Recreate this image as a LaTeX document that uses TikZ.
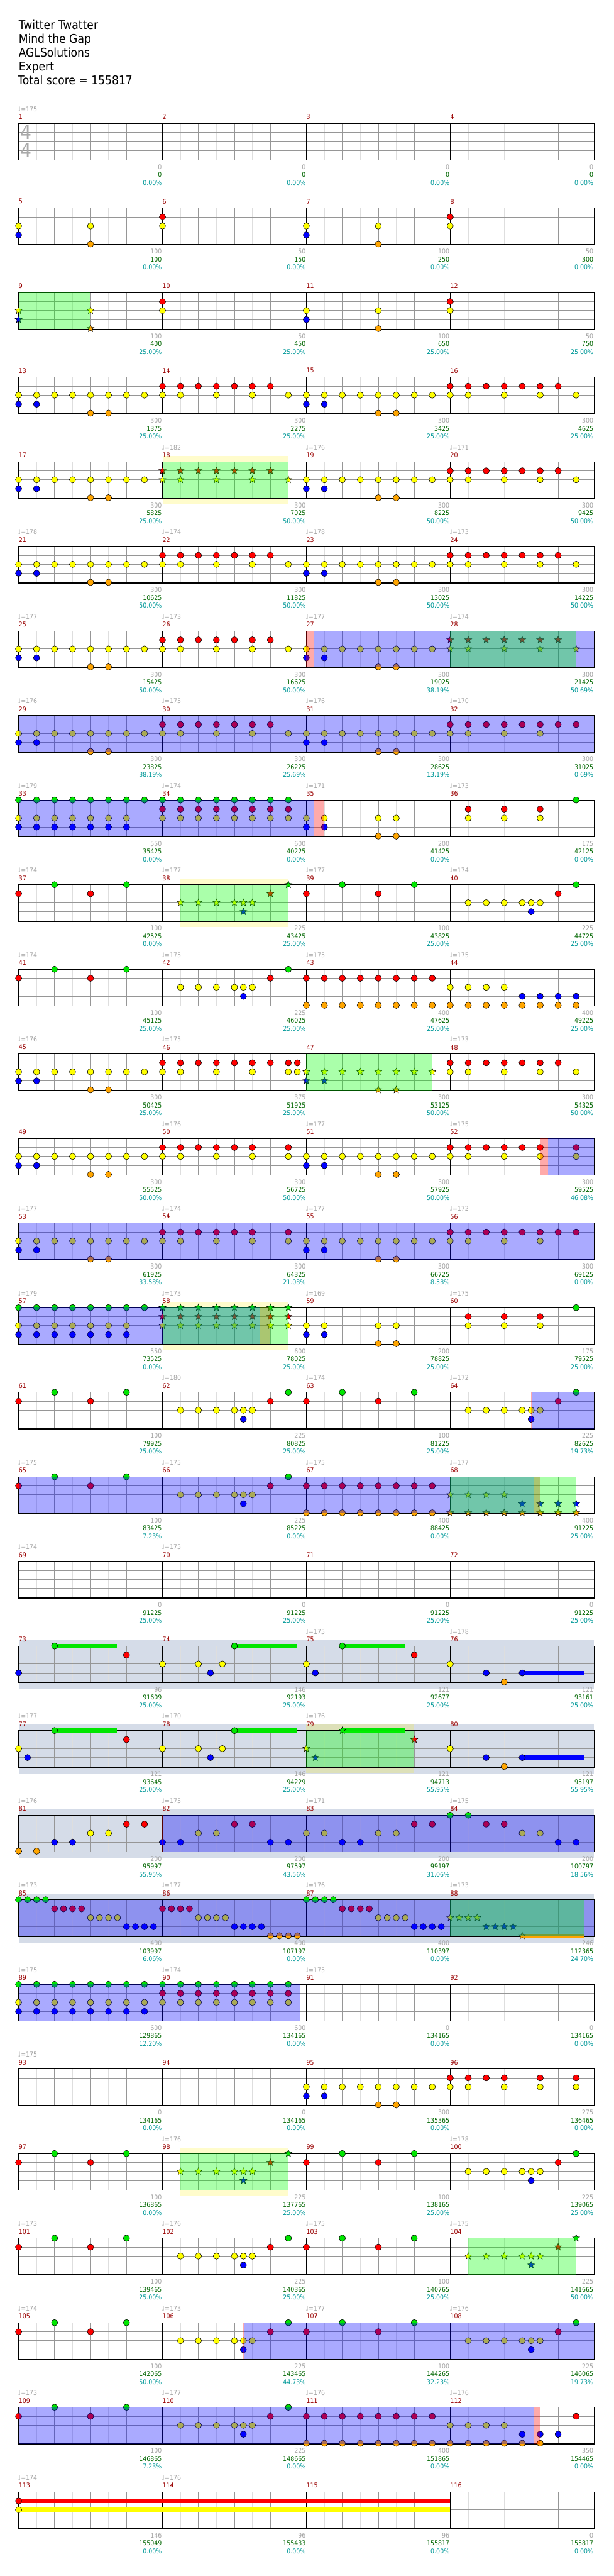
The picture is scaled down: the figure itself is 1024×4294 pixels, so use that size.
\documentclass[tikz,border=0pt]{standalone}
\usepackage{fontspec}
\setmainfont{DejaVu Sans}[FakeStretch=0.9]
\usetikzlibrary{shapes.geometric}

\definecolor{lane0}{RGB}{0,230,0}
\definecolor{lane1}{RGB}{255,0,0}
\definecolor{lane2}{RGB}{255,255,0}
\definecolor{lane3}{RGB}{0,0,255}
\definecolor{lane4}{RGB}{255,165,0}
\definecolor{ovblue}{RGB}{0,0,255}
\definecolor{ovgreen}{RGB}{0,255,0}
\definecolor{ovpink}{RGB}{255,0,0}
\definecolor{slategrey}{RGB}{213,220,232}
\definecolor{barred}{RGB}{153,0,0}
\definecolor{lightgrey}{RGB}{165,165,165}
\definecolor{scoregreen}{RGB}{0,102,0}
\definecolor{pctteal}{RGB}{0,153,153}

\tikzset{
  note/.style={circle, draw=black, line width=0.6pt, minimum size=10.5pt, inner sep=0pt},
  starnote/.style={star, star points=5, star point ratio=2.3, draw=black, line width=0.5pt, minimum size=12.5pt, inner sep=0pt},
  eighthline/.style={draw={rgb,255:red,222;green,222;blue,222}, line width=0.8pt},
  beatline/.style={draw={rgb,255:red,150;green,150;blue,150}, line width=0.8pt},
  laneline/.style={draw={rgb,255:red,150;green,150;blue,150}, line width=0.8pt},
  barline/.style={draw=black, line width=0.8pt},
  staffborder/.style={draw=black, line width=1.3pt},
  susbar/.style={line width=7pt},
  glowband/.style={fill=yellow, opacity=0.2},
  chart/.style={font=\fontsize{11}{13}\selectfont, inner sep=0pt},
  barnum/.style={chart, text=barred},
  tempo/.style={chart, text=lightgrey},
  statgray/.style={chart, text=lightgrey},
  statscore/.style={chart, text=scoregreen},
  statpct/.style={chart, text=pctteal},
  titletext/.style={font=\fontsize{20}{24}\selectfont, inner sep=0pt, anchor=base west}
}

\newcount\notecnt
% one gem: [style]{row}{position in eighths}{lane}
\newcommand{\notehead}[4][note]{%
  \global\advance\notecnt by 1
  \node[#1, fill=lane#4] (n\the\notecnt) at ({31+30*(#3)},{205.7+141*(#2)+15*(#4)}) {};}
\newcommand{\notes}[2]{\foreach \p/\l in {#2}{\notehead{#1}{\p}{\l}}}
\newcommand{\stars}[2]{\foreach \p/\l in {#2}{\notehead[starnote]{#1}{\p}{\l}}}
\newcommand{\sustain}[4]{%
  \draw[susbar, draw=lane#4] ({31+30*(#2)},{205.7+141*(#1)+15*(#4)}) -- ({31+30*(#3)},{205.7+141*(#1)+15*(#4)});}

% staff with grid and bar numbers
\newcommand{\staffgrid}[2]{%
  \pgfmathsetmacro\sy{205.7+141*#1}
  \foreach \q in {1,3,...,31} \draw[eighthline] ({31+30*\q},\sy) -- ++(0,61);
  \foreach \q in {2,4,6,10,12,14,18,20,22,26,28,30} \draw[beatline] ({31+30*\q},\sy) -- ++(0,61);
  \foreach \l in {15,30,45} \draw[laneline] (31,{\sy+\l}) -- (991,{\sy+\l});
  \foreach \q in {8,16,24} \draw[barline] ({31+30*\q},\sy) -- ++(0,61);
  \draw[staffborder] (31,\sy) rectangle (991,{\sy+61});
  \foreach \i in {0,...,3}{%
    \pgfmathtruncatemacro\n{#2+\i}
    \node[barnum, anchor=west] (bar\n) at ({31+240*\i},{\sy-11}) {\n};}}

\newcommand{\stats}[2]{%
  \pgfmathsetmacro\sy{205.7+141*#1}
  \foreach \gv/\sv/\pv [count=\i] in {#2}{%
    \node[statgray, anchor=east] (pts#1-\i) at ({30+240*\i},{\sy+72.7}) {\gv};
    \node[statscore, anchor=east] (sum#1-\i) at ({30+240*\i},{\sy+85.7}) {\sv};
    \node[statpct, anchor=east] (pct#1-\i) at ({30+240*\i},{\sy+98.7}) {\pv\%};}}
\newcommand{\tempos}[2]{%
  \pgfmathsetmacro\sy{205.7+141*#1}
  \foreach \i/\bpm in {#2} \node[tempo, anchor=west] (bpm#1-\i) at ({30+240*\i},{\sy-24}) {♩=\bpm};}

% shaded spans
\newcommand{\spanfill}[4]{%
  \pgfmathsetmacro\sy{205.7+141*#1}
  \fill[#4, opacity=0.333] ({31+30*(#2)},\sy) rectangle ({31+30*(#3)},{\sy+61});}
\newcommand{\glow}[3]{%
  \pgfmathsetmacro\sy{205.7+141*#1}
  \fill[glowband] ({31+30*(#2)},{\sy-10}) rectangle ({31+30*(#3)},\sy);
  \fill[glowband] ({31+30*(#2)},{\sy+61}) rectangle ({31+30*(#3)},{\sy+71});}
\newcommand{\slateband}[1]{%
  \pgfmathsetmacro\sy{205.7+141*#1}
  \fill[slategrey] (31,{\sy-10.5}) rectangle (991,{\sy+71.5});}

% recurring measures: [style]{row}{offset}
\newcommand{\grooveA}[3][note]{%
  \foreach \p in {0,...,7}{\notehead[#1]{#2}{#3+\p}{2}}
  \foreach \p in {0,1}{\notehead[#1]{#2}{#3+\p}{3}}
  \foreach \p in {4,5}{\notehead[#1]{#2}{#3+\p}{4}}}
\newcommand{\grooveB}[3][note]{%
  \foreach \p in {0,...,6}{\notehead[#1]{#2}{#3+\p}{1}}
  \foreach \p in {0,1,3,5,7}{\notehead[#1]{#2}{#3+\p}{2}}}
\newcommand{\grooveC}[3][note]{%
  \foreach \p in {0,1,2,3,4,5,7}{\notehead[#1]{#2}{#3+\p}{1}}
  \foreach \p in {0,1,3,5,7}{\notehead[#1]{#2}{#3+\p}{2}}}
\newcommand{\grooveD}[3][note]{%
  \foreach \p in {0,...,7}{\notehead[#1]{#2}{#3+\p}{1}}
  \foreach \p in {0,1,3,5}{\notehead[#1]{#2}{#3+\p}{2}}}
\newcommand{\grooveE}[3][note]{%
  \foreach \p in {0,1,4,5}{\notehead[#1]{#2}{#3+\p}{2}}
  \foreach \p in {0,1}{\notehead[#1]{#2}{#3+\p}{3}}
  \foreach \p in {4,5}{\notehead[#1]{#2}{#3+\p}{4}}}
\newcommand{\grooveF}[3][note]{%
  \foreach \p in {1,3,5}{\notehead[#1]{#2}{#3+\p}{1}\notehead[#1]{#2}{#3+\p}{2}}
  \notehead[#1]{#2}{#3+7}{0}}
\newcommand{\grooveG}[3][note]{%
  \foreach \p in {0,...,7}{\notehead[#1]{#2}{#3+\p}{1}\notehead[#1]{#2}{#3+\p}{4}}}
\newcommand{\grooveH}[3][note]{%
  \foreach \p in {0,...,3}{\notehead[#1]{#2}{#3+\p}{2}}
  \foreach \p in {4,...,7}{\notehead[#1]{#2}{#3+\p}{3}}
  \foreach \p in {0,...,7}{\notehead[#1]{#2}{#3+\p}{4}}}
\newcommand{\rollA}[3][note]{%
  \foreach \p in {0,...,7}{\notehead[#1]{#2}{#3+\p}{0}}
  \foreach \p in {0,...,6}{\notehead[#1]{#2}{#3+\p}{2}\notehead[#1]{#2}{#3+\p}{3}}}
\newcommand{\rollB}[3][note]{%
  \foreach \p in {0,...,7}{\notehead[#1]{#2}{#3+\p}{0}\notehead[#1]{#2}{#3+\p}{1}\notehead[#1]{#2}{#3+\p}{2}}}
\newcommand{\riffA}[3][note]{%
  \foreach \p/\l in {0/1,2/0,4/1,6/0}{\notehead[#1]{#2}{#3+\p}{\l}}}
\newcommand{\riffB}[3][note]{%
  \foreach \p/\l in {1/2,2/2,3/2,4/2,4.5/2,5/2,4.5/3,6/1,7/0}{\notehead[#1]{#2}{#3+\p}{\l}}}

\begin{document}
\begin{tikzpicture}[x=1pt, y=-1pt]
\useasboundingbox (0,0) rectangle (1024,4294);
\fill[white] (0,0) rectangle (1024,4294);

% header
\node[titletext] (song) at (31,49) {Twitter Twatter};
\node[titletext] (album) at (31,72) {Mind the Gap};
\node[titletext] (charter) at (31,95) {AGLSolutions};
\node[titletext] (level) at (31,118) {Expert};
\node[titletext] (total) at (29.5,141) {Total score = 155817};

% backgrounds
\foreach \k in {18,...,21} {\slateband{\k}}
\glow{4}{8}{15}
\glow{9}{9}{15}
\glow{14}{8}{15}
\glow{19}{16}{22}
\glow{24}{9}{15}

% staves
\foreach \k [evaluate=\k as \m using int(4*\k+1)] in {0,...,28} {\staffgrid{\k}{\m}}
\node[text={rgb,255:red,170;green,170;blue,170}, font=\fontsize{33}{33}\selectfont, inner sep=0pt] (tsnum) at (43.8,220.4) {4};
\node[text={rgb,255:red,170;green,170;blue,170}, font=\fontsize{33}{33}\selectfont, inner sep=0pt] (tsden) at (43.8,250.7) {4};

% row 1-4
\tempos{0}{0/175}
\stats{0}{0/0/0.00, 0/0/0.00, 0/0/0.00, 0/0/0.00}

% row 5-8
\notes{1}{0/2,0/3,4/2,4/4,8/1,8/2,16/2,16/3,20/2,20/4,24/1,24/2}
\stats{1}{100/100/0.00, 50/150/0.00, 100/250/0.00, 50/300/0.00}

% row 9-12
\stars{2}{0/2,0/3,4/2,4/4}
\notes{2}{8/1,8/2,16/2,16/3,20/2,20/4,24/1,24/2}
\spanfill{2}{0}{4}{ovgreen}
\stats{2}{100/400/25.00, 50/450/25.00, 100/650/25.00, 50/750/25.00}

% row 13-16
\grooveA{3}{0} \grooveB{3}{8} \grooveA{3}{16} \grooveB{3}{24}
\stats{3}{300/1375/25.00, 300/2275/25.00, 300/3425/25.00, 300/4625/25.00}

% row 17-20
\grooveA{4}{0} \grooveB[starnote]{4}{8} \grooveA{4}{16} \grooveB{4}{24}
\spanfill{4}{8}{15}{ovgreen}
\tempos{4}{1/182,2/176,3/171}
\stats{4}{300/5825/25.00, 300/7025/50.00, 300/8225/50.00, 300/9425/50.00}

% row 21-24
\grooveA{5}{0} \grooveB{5}{8} \grooveA{5}{16} \grooveB{5}{24}
\tempos{5}{0/178,1/174,2/178,3/173}
\stats{5}{300/10625/50.00, 300/11825/50.00, 300/13025/50.00, 300/14225/50.00}

% row 25-28
\grooveA{6}{0} \grooveB{6}{8} \grooveA{6}{16} \grooveB[starnote]{6}{24}
\spanfill{6}{16}{16.41}{ovpink}
\spanfill{6}{16.41}{32}{ovblue}
\spanfill{6}{24}{31}{ovgreen}
\tempos{6}{0/177,1/173,2/177,3/174}
\stats{6}{300/15425/50.00, 300/16625/50.00, 300/19025/38.19, 300/21425/50.69}

% row 29-32
\grooveA{7}{0} \grooveB{7}{8} \grooveA{7}{16} \grooveD{7}{24}
\spanfill{7}{0}{32}{ovblue}
\tempos{7}{0/176,1/175,2/176,3/170}
\stats{7}{300/23825/38.19, 300/26225/25.69, 300/28625/13.19, 300/31025/0.69}

% row 33-36
\rollA{8}{0} \rollB{8}{8} \grooveE{8}{16} \grooveF{8}{24}
\spanfill{8}{0}{16.42}{ovblue}
\spanfill{8}{16.42}{17}{ovpink}
\tempos{8}{0/179,1/174,2/171,3/173}
\stats{8}{550/35425/0.00, 600/40225/0.00, 200/41425/0.00, 175/42125/0.00}

% row 37-40
\riffA{9}{0} \riffB[starnote]{9}{8} \riffA{9}{16} \riffB{9}{24}
\spanfill{9}{9}{15}{ovgreen}
\tempos{9}{0/174,1/177,2/177,3/174}
\stats{9}{100/42525/0.00, 225/43425/25.00, 100/43825/25.00, 225/44725/25.00}

% row 41-44
\riffA{10}{0} \riffB{10}{8} \grooveG{10}{16} \grooveH{10}{24}
\tempos{10}{0/174,1/175,2/175,3/175}
\stats{10}{100/45125/25.00, 225/46025/25.00, 400/47625/25.00, 400/49225/25.00}

% row 45-48
\grooveA{11}{0}
\notes{11}{8/1,9/1,10/1,11/1,12/1,13/1,14/1,15/1,15.5/1,8/2,9/2,11/2,13/2,15/2,15.5/2}
\grooveA[starnote]{11}{16} \grooveB{11}{24}
\spanfill{11}{16}{23}{ovgreen}
\tempos{11}{0/176,1/175,3/173}
\stats{11}{300/50425/25.00, 375/51925/25.00, 300/53125/50.00, 300/54325/50.00}

% row 49-52
\grooveA{12}{0} \grooveC{12}{8} \grooveA{12}{16} \grooveC{12}{24}
\spanfill{12}{29}{29.43}{ovpink}
\spanfill{12}{29.43}{32}{ovblue}
\tempos{12}{1/176,2/177,3/175}
\stats{12}{300/55525/50.00, 300/56725/50.00, 300/57925/50.00, 300/59525/46.08}

% row 53-56
\grooveA{13}{0} \grooveC{13}{8} \grooveA{13}{16} \grooveD{13}{24}
\spanfill{13}{0}{32}{ovblue}
\tempos{13}{0/177,1/174,2/177,3/172}
\stats{13}{300/61925/33.58, 300/64325/21.08, 300/66725/8.58, 300/69125/0.00}

% row 57-60
\rollA{14}{0} \rollB[starnote]{14}{8} \grooveE{14}{16} \grooveF{14}{24}
\spanfill{14}{0}{13.45}{ovblue}
\spanfill{14}{13.45}{14}{ovpink}
\spanfill{14}{8}{15}{ovgreen}
\tempos{14}{0/179,1/173,2/169,3/175}
\stats{14}{550/73525/0.00, 600/78025/25.00, 200/78825/25.00, 175/79525/25.00}

% row 61-64
\riffA{15}{0} \riffB{15}{8} \riffA{15}{16} \riffB{15}{24}
\spanfill{15}{28.5}{28.57}{ovpink}
\spanfill{15}{28.57}{32}{ovblue}
\tempos{15}{1/180,2/174,3/172}
\stats{15}{100/79925/25.00, 225/80825/25.00, 100/81225/25.00, 225/82625/19.73}

% row 65-68
\riffA{16}{0} \riffB{16}{8} \grooveG{16}{16} \grooveH[starnote]{16}{24}
\spanfill{16}{0}{28.65}{ovblue}
\spanfill{16}{28.65}{29}{ovpink}
\spanfill{16}{24}{31}{ovgreen}
\tempos{16}{0/175,1/175,2/175,3/177}
\stats{16}{100/83425/7.23, 225/85225/0.00, 400/88425/0.00, 400/91225/25.00}

% row 69-72
\tempos{17}{0/174,1/175}
\stats{17}{0/91225/25.00, 0/91225/25.00, 0/91225/25.00, 0/91225/25.00}

% row 73-76
\sustain{18}{2}{5.47}{0} \sustain{18}{12}{15.47}{0} \sustain{18}{18}{21.47}{0} \sustain{18}{28}{31.47}{3}
\notes{18}{0/3,2/0,6/1,8/2,10/2,11.33/2,10.67/3,12/0,16/2,16.5/3,18/0,22/1,24/2,26/3,27/4,28/3}
\tempos{18}{2/175,3/178}
\stats{18}{96/91609/25.00, 146/92193/25.00, 121/92677/25.00, 121/93161/25.00}

% row 77-80
\sustain{19}{2}{5.47}{0} \sustain{19}{12}{15.47}{0} \sustain{19}{18}{21.47}{0} \sustain{19}{28}{31.47}{3}
\notes{19}{0/2,0.5/3,2/0,6/1,8/2,10/2,11.33/2,10.67/3,12/0,24/2,26/3,27/4,28/3}
\stars{19}{16/2,16.5/3,18/0,22/1}
\spanfill{19}{16}{22}{ovgreen}
\tempos{19}{0/177,1/170,2/176}
\stats{19}{121/93645/25.00, 146/94229/25.00, 121/94713/55.95, 121/95197/55.95}

% row 81-84
\notes{20}{0/4,1/4,2/3,3/3,4/2,5/2,6/1,7/1,8/3,9/3,10/2,11/2,12/1,13/1,14/3,15/3,16/2,17/2,18/3,19/3,20/2,21/2,22/1,23/1,24/0,25/0,26/1,27/1,28/2,29/2,30/3,31/3}
\spanfill{20}{7.95}{8}{ovpink}
\spanfill{20}{8}{32}{ovblue}
\tempos{20}{0/176,1/175,2/171,3/175}
\stats{20}{200/95997/55.95, 200/97597/43.56, 200/99197/31.06, 200/100797/18.56}

% row 85-88
\sustain{21}{28}{31.47}{4}
\notes{21}{0/0,0.5/0,1/0,1.5/0,2/1,2.5/1,3/1,3.5/1,4/2,4.5/2,5/2,5.5/2,6/3,6.5/3,7/3,7.5/3,
  8/1,8.5/1,9/1,9.5/1,10/2,10.5/2,11/2,11.5/2,12/3,12.5/3,13/3,13.5/3,14/4,14.5/4,15/4,15.5/4,
  16/0,16.5/0,17/0,17.5/0,18/1,18.5/1,19/1,19.5/1,20/2,20.5/2,21/2,21.5/2,22/3,22.5/3,23/3,23.5/3}
\stars{21}{24/2,24.5/2,25/2,25.5/2,26/3,26.5/3,27/3,27.5/3,28/4}
\spanfill{21}{0}{32}{ovblue}
\spanfill{21}{24}{31.47}{ovgreen}
\tempos{21}{0/173,1/177,2/176,3/173}
\stats{21}{400/103997/6.06, 400/107197/0.00, 400/110397/0.00, 246/112365/24.70}

% row 89-92
\foreach \q in {0,...,7} {\notes{22}{\q/0,\q/2,\q/3}}
\rollB{22}{8}
\spanfill{22}{0}{15.65}{ovblue}
\tempos{22}{0/175,1/174,2/175}
\stats{22}{600/129865/12.20, 600/134165/0.00, 0/134165/0.00, 0/134165/0.00}

% row 93-96
\grooveA{23}{16}
\notes{23}{24/1,25/1,26/1,27/1,29/1,31/1,24/2,25/2,27/2,29/2,31/2}
\tempos{23}{0/175}
\stats{23}{0/134165/0.00, 0/134165/0.00, 300/135365/0.00, 275/136465/0.00}

% row 97-100
\riffA{24}{0} \riffB[starnote]{24}{8} \riffA{24}{16} \riffB{24}{24}
\spanfill{24}{9}{15}{ovgreen}
\tempos{24}{1/176,3/178}
\stats{24}{100/136865/0.00, 225/137765/25.00, 100/138165/25.00, 225/139065/25.00}

% row 101-104
\riffA{25}{0} \riffB{25}{8} \riffA{25}{16} \riffB[starnote]{25}{24}
\spanfill{25}{25}{31}{ovgreen}
\tempos{25}{0/173,1/176,2/175,3/175}
\stats{25}{100/139465/25.00, 225/140365/25.00, 100/140765/25.00, 225/141665/50.00}

% row 105-108
\riffA{26}{0} \riffB{26}{8} \riffA{26}{16} \riffB{26}{24}
\spanfill{26}{12.49}{12.56}{ovpink}
\spanfill{26}{12.56}{32}{ovblue}
\tempos{26}{0/174,1/173,2/177,3/176}
\stats{26}{100/142065/50.00, 225/143465/44.73, 100/144265/32.23, 225/146065/19.73}

% row 109-112
\riffA{27}{0} \riffB{27}{8} \grooveG{27}{16}
\notes{27}{24/2,25/2,26/2,27/2,24/4,25/4,26/4,27/4,28/4,29/4,28/3,29/3,30/3,31/1}
\spanfill{27}{0}{28.65}{ovblue}
\spanfill{27}{28.65}{29}{ovpink}
\tempos{27}{0/173,1/177,2/176,3/176}
\stats{27}{100/146865/7.23, 225/148665/0.00, 400/151865/0.00, 350/154465/0.00}

% row 113-116
\sustain{28}{0}{24}{1} \sustain{28}{0}{24}{2}
\notes{28}{0/1,0/2}
\tempos{28}{0/174,1/176}
\stats{28}{146/155049/0.00, 96/155433/0.00, 96/155817/0.00, 0/155817/0.00}

\end{tikzpicture}
\end{document}
